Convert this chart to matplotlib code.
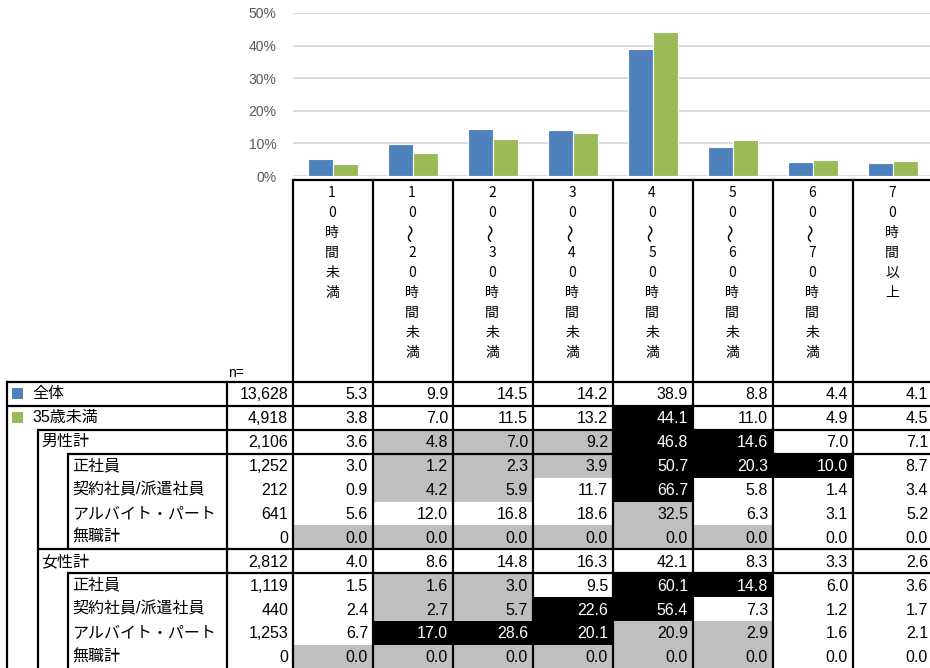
import numpy as np
import matplotlib.pyplot as plt
from matplotlib.patches import Rectangle

plt.rcParams['font.family'] = ['Liberation Sans', 'Noto Sans CJK JP']

# header categories (written vertically in the table head)
categories = ['10時間未満', '10〜20時間未満', '20〜30時間未満', '30〜40時間未満',
              '40〜50時間未満', '50〜60時間未満', '60〜70時間未満', '70時間以上']

series_names = ['全体', '35歳未満']
all_vals = [5.3, 9.9, 14.5, 14.2, 38.9, 8.8, 4.4, 4.1]
young_vals = [3.8, 7.0, 11.5, 13.2, 44.1, 11.0, 4.9, 4.5]

# table rows: label, indent level, n
row_labels = ['全体', '35歳未満', '男性計', '正社員', '契約社員/派遣社員', 'アルバイト・パート', '無職計',
              '女性計', '正社員', '契約社員/派遣社員', 'アルバイト・パート', '無職計']
row_levels = [0, 0, 1, 2, 2, 2, 2, 1, 2, 2, 2, 2]
row_n = ['13,628', '4,918', '2,106', '1,252', '212', '641', '0',
         '2,812', '1,119', '440', '1,253', '0']
row_vals = [
    all_vals,
    young_vals,
    [3.6, 4.8, 7.0, 9.2, 46.8, 14.6, 7.0, 7.1],
    [3.0, 1.2, 2.3, 3.9, 50.7, 20.3, 10.0, 8.7],
    [0.9, 4.2, 5.9, 11.7, 66.7, 5.8, 1.4, 3.4],
    [5.6, 12.0, 16.8, 18.6, 32.5, 6.3, 3.1, 5.2],
    [0.0, 0.0, 0.0, 0.0, 0.0, 0.0, 0.0, 0.0],
    [4.0, 8.6, 14.8, 16.3, 42.1, 8.3, 3.3, 2.6],
    [1.5, 1.6, 3.0, 9.5, 60.1, 14.8, 6.0, 3.6],
    [2.4, 2.7, 5.7, 22.6, 56.4, 7.3, 1.2, 1.7],
    [6.7, 17.0, 28.6, 20.1, 20.9, 2.9, 1.6, 2.1],
    [0.0, 0.0, 0.0, 0.0, 0.0, 0.0, 0.0, 0.0],
]

BLUE = '#4F81BD'
GREEN = '#9BBB59'
GRAY = '#BFBFBF'

W, H = 930, 668
fig = plt.figure(figsize=(W / 100, H / 100), dpi=100)

# layout in pixels
col_x0, col_w = 293, 80
n_x0 = 227
head_y0 = 180
row_y0, row_h = 382, 23.9
box_left = [7, 38, 68]
label_x = [32, 41, 72]
ncat = len(categories)

# ---- table (pixel coordinates) ----
tab = fig.add_axes([0, 0, 1, 1])
tab.set_xlim(0, W)
tab.set_ylim(H, 0)
tab.axis('off')

nrows = len(row_labels)
bottom = row_y0 + row_h * nrows

for i in range(nrows):
    y = row_y0 + i * row_h
    yc = y + row_h / 2
    for j, v in enumerate(row_vals[i]):
        # shading: 5+ points above / below 全体
        diff = round(v - all_vals[j], 1)
        face, tc = 'white', 'black'
        if i > 0 and diff >= 5:
            face, tc = 'black', 'white'
        elif i > 0 and diff <= -5:
            face = GRAY
        x = col_x0 + j * col_w
        if face != 'white':
            tab.add_patch(Rectangle((x, y), col_w, row_h, facecolor=face, edgecolor='none', zorder=1))
        tab.text(x + col_w - 5, yc + 1, f'{v:.1f}', ha='right', va='center',
                 fontsize=11.5, color=tc, zorder=3)
    tab.text(col_x0 - 5, yc + 1, row_n[i], ha='right', va='center', fontsize=11.5, zorder=3)
    lev = row_levels[i]
    tab.text(label_x[lev], yc, row_labels[i], ha='left', va='center', fontsize=11.5,
             family=['Liberation Sans', 'Noto Sans CJK JP'], zorder=3)
    if i < 2:
        tab.add_patch(Rectangle((12, yc - 5.5), 11, 11, facecolor=[BLUE, GREEN][i],
                                edgecolor='none', zorder=3))
    # horizontal rule at top of row
    if lev <= 1 or row_levels[i - 1] < 2:
        tab.plot([box_left[lev], W], [y, y], color='black', lw=1.6, zorder=4,
                 solid_capstyle='butt')

# vertical rules
lw = 1.6
tab.plot([box_left[0]] * 2, [row_y0, bottom], color='black', lw=lw, zorder=4)
start1 = row_y0 + row_levels.index(1) * row_h
tab.plot([box_left[1]] * 2, [start1, bottom], color='black', lw=lw, zorder=4)
i = 0
while i < nrows:
    if row_levels[i] == 2:
        k = i
        while k < nrows and row_levels[k] == 2:
            k += 1
        tab.plot([box_left[2]] * 2, [row_y0 + i * row_h, row_y0 + k * row_h],
                 color='black', lw=lw, zorder=4)
        i = k
    else:
        i += 1
tab.plot([n_x0] * 2, [row_y0, bottom], color='black', lw=lw, zorder=4)
for j in range(ncat):
    x = col_x0 + j * col_w
    tab.plot([x, x], [head_y0, bottom], color='black', lw=lw, zorder=4)
tab.plot([col_x0, W], [head_y0, head_y0], color='black', lw=lw, zorder=4,
         solid_capstyle='butt')

# vertical header text
for j, cat in enumerate(categories):
    xc = col_x0 + j * col_w + col_w / 2 - 1
    for k, ch in enumerate(cat):
        if ch == '〜':
            tab.text(xc, head_y0 + 13 + k * 20, ch, ha='center', va='center', fontsize=13,
                     rotation=90, family=['Noto Sans CJK JP'], zorder=3)
        else:
            tab.text(xc, head_y0 + 13 + k * 20, ch, ha='center', va='center', fontsize=10,
                     family=['Noto Sans CJK JP'], zorder=3)

tab.text(228, 373, 'n=', ha='left', va='center', fontsize=10)

# ---- bar chart ----
y0_px, y50_px = 176, 13
ax = fig.add_axes([col_x0 / W, (H - y0_px) / H, col_w * ncat / W, (y0_px - y50_px) / H])
x = np.arange(ncat)
bw = 0.3125
ax.bar(x - bw / 2, all_vals, bw, color=BLUE, edgecolor='white', linewidth=0.8,
       label=series_names[0], zorder=3)
ax.bar(x + bw / 2, young_vals, bw, color=GREEN, edgecolor='white', linewidth=0.8,
       label=series_names[1], zorder=3)
ax.set_xlim(-0.5, ncat - 0.5)
ax.set_ylim(0, 50)
ax.set_yticks(range(0, 51, 10))
ax.set_yticklabels([f'{t}%' for t in range(0, 51, 10)], color='#595959', fontsize=10)
ax.set_xticks([])
ax.tick_params(axis='y', length=0, pad=12)
ax.yaxis.grid(True, color='#D9D9D9', lw=1.3, zorder=0)
for s in ax.spines.values():
    s.set_visible(False)
ax.patch.set_alpha(0)

fig.savefig('out.png', dpi=100)
